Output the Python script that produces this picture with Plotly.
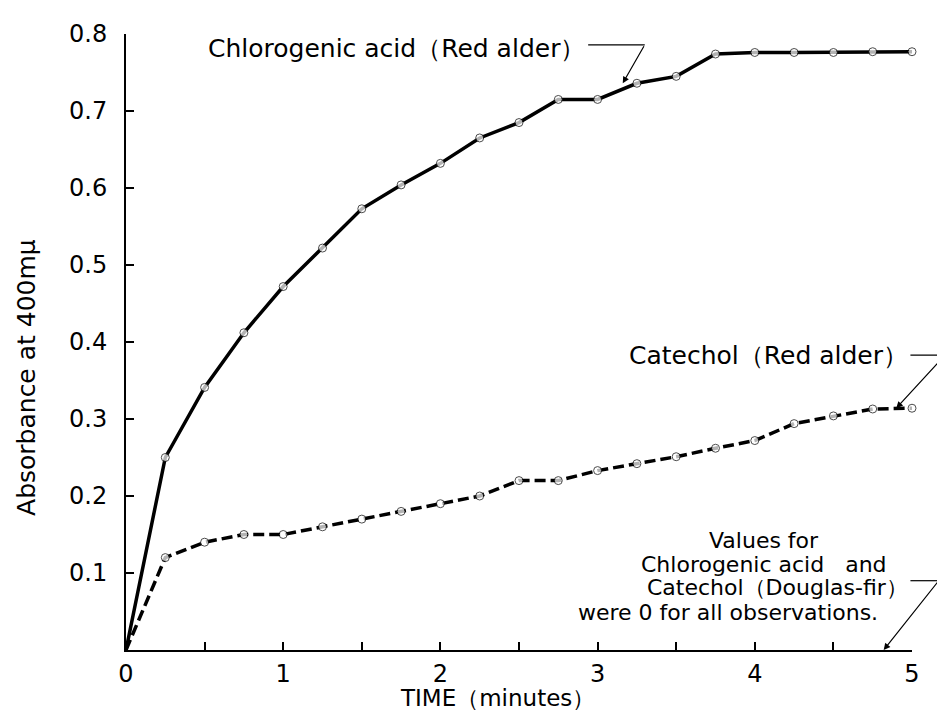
import plotly.graph_objects as go

# ---- data ----
time_min = [0, 0.25, 0.5, 0.75, 1.0, 1.25, 1.5, 1.75, 2.0, 2.25, 2.5,
            2.75, 3.0, 3.25, 3.5, 3.75, 4.0, 4.25, 4.5, 4.75, 5.0]
chlorogenic_red_alder = [0.0, 0.25, 0.341, 0.412, 0.472, 0.522, 0.573, 0.604, 0.632, 0.665, 0.685,
                         0.715, 0.715, 0.736, 0.745, 0.774, 0.776, 0.776, 0.776, 0.777, 0.777]
catechol_red_alder = [0.0, 0.12, 0.14, 0.15, 0.15, 0.16, 0.17, 0.18, 0.19, 0.20, 0.22,
                      0.22, 0.233, 0.242, 0.251, 0.262, 0.272, 0.294, 0.304, 0.313, 0.314]
x_tick_vals = [0, 1, 2, 3, 4, 5]
x_tick_text = ["0", "1", "2", "3", "4", "5"]
y_tick_vals = [0.1, 0.2, 0.3, 0.4, 0.5, 0.6, 0.7, 0.8]
y_tick_text = ["0.1", "0.2", "0.3", "0.4", "0.5", "0.6", "0.7", "0.8"]

FONT = "DejaVu Sans"
FS = 24
marker_sizes = [0] + [8] * (len(time_min) - 1)

X_MAX, Y_MAX = 5.0, 0.8

# the page body has an 8px margin, so the figure is made 8px smaller
W, H = 937, 707
L, T, R, B = 118, 17, 33, 65

fig = go.Figure()
fig.add_trace(go.Scatter(
    x=time_min, y=chlorogenic_red_alder, mode="lines+markers",
    line=dict(color="black", width=3.5),
    marker=dict(symbol="circle", size=marker_sizes, color="white",
                line=dict(color="black", width=1)),
    showlegend=False, cliponaxis=False))
fig.add_trace(go.Scatter(
    x=time_min, y=catechol_red_alder, mode="lines+markers",
    line=dict(color="black", width=3.5, dash="11px,5px"),
    marker=dict(symbol="circle", size=marker_sizes, color="white",
                line=dict(color="black", width=1)),
    showlegend=False, cliponaxis=False))

big = dict(family=FONT, size=25, color="black")
small = dict(family=FONT, size=22, color="black")
annotations = [
    dict(text="Chlorogenic acid（Red alder）", x=2.93, y=0.781, xref="x", yref="y",
         xanchor="right", yanchor="middle", showarrow=False, font=big),
    dict(text="Catechol（Red alder）", x=4.99, y=0.383, xref="x", yref="y",
         xanchor="right", yanchor="middle", showarrow=False, font=big),
    dict(text="Values for", x=(763 - 126) / 157, y=(650 - 539) / 780, xref="x", yref="y",
         xanchor="center", yanchor="middle", showarrow=False, font=small),
    dict(text="Chlorogenic acid\u00a0\u00a0\u00a0and", x=(888 - 126) / 157, y=(650 - 563) / 780,
         xref="x", yref="y", xanchor="right", yanchor="middle", showarrow=False, font=small),
    dict(text="Catechol（Douglas-fir）", x=(909 - 126) / 157, y=(650 - 587) / 780,
         xref="x", yref="y", xanchor="right", yanchor="middle", showarrow=False, font=small),
    dict(text="were 0 for all observations.", x=(879 - 126) / 157, y=(650 - 612) / 780,
         xref="x", yref="y", xanchor="right", yanchor="middle", showarrow=False, font=small),
    # axis titles
    dict(text="Absorbance at 400mμ", x=(27 - 126) / 786, y=(650 - 374) / 625,
         xref="paper", yref="paper", textangle=-90, xanchor="center", yanchor="middle",
         showarrow=False, font=big),
    dict(text="TIME（minutes）", x=(497 - 126) / 786, y=(650 - 699) / 625,
         xref="paper", yref="paper", xanchor="center", yanchor="middle",
         showarrow=False, font=dict(family=FONT, size=23, color="black")),
]

# leader lines (in data units): start -> elbow (line), elbow -> tip (arrow)
leaders = [
    ((2.94, 0.786), (3.30, 0.786), (3.16, 0.736)),
    ((4.99, 0.383), (5.21, 0.383), (4.90, 0.314)),
    ((4.99, 0.090), (5.17, 0.090), (4.82, 0.0)),
]
shapes = []
for start, elbow, tip in leaders:
    # paper-referenced so the part right of the axes is not clipped
    shapes.append(dict(type="line", xref="paper", yref="paper",
                       x0=start[0] / X_MAX, y0=start[1] / Y_MAX,
                       x1=elbow[0] / X_MAX, y1=elbow[1] / Y_MAX,
                       line=dict(color="black", width=1.2)))
    annotations.append(dict(text="", x=tip[0], y=tip[1], ax=elbow[0], ay=elbow[1],
                            xref="x", yref="y", axref="x", ayref="y", showarrow=True,
                            arrowhead=2, arrowsize=1.1, arrowwidth=1.2, arrowcolor="black",
                            standoff=0, startstandoff=0))

fig.update_layout(
    width=W, height=H,
    margin=dict(l=L, r=R, t=T, b=B),
    paper_bgcolor="white", plot_bgcolor="white",
    font=dict(family=FONT, size=FS, color="black"),
    annotations=annotations, shapes=shapes,
    xaxis=dict(range=[0, X_MAX], tickvals=x_tick_vals, ticktext=x_tick_text,
               showline=True, linecolor="black", linewidth=2, mirror=False,
               ticks="inside", ticklen=8, tickwidth=1.5, tickcolor="black",
               minor=dict(dtick=0.5, ticks="inside", ticklen=8, tickwidth=1.5, tickcolor="black"),
               showgrid=False, zeroline=False, ticklabelstandoff=1,
               tickfont=dict(family=FONT, size=FS)),
    yaxis=dict(range=[0, Y_MAX], tickvals=y_tick_vals, ticktext=y_tick_text,
               showline=True, linecolor="black", linewidth=2, mirror=False,
               ticks="inside", ticklen=8, tickwidth=1.5, tickcolor="black",
               showgrid=False, zeroline=False, ticklabelstandoff=12,
               tickfont=dict(family=FONT, size=FS)),
)

fig.write_html("out.html")
